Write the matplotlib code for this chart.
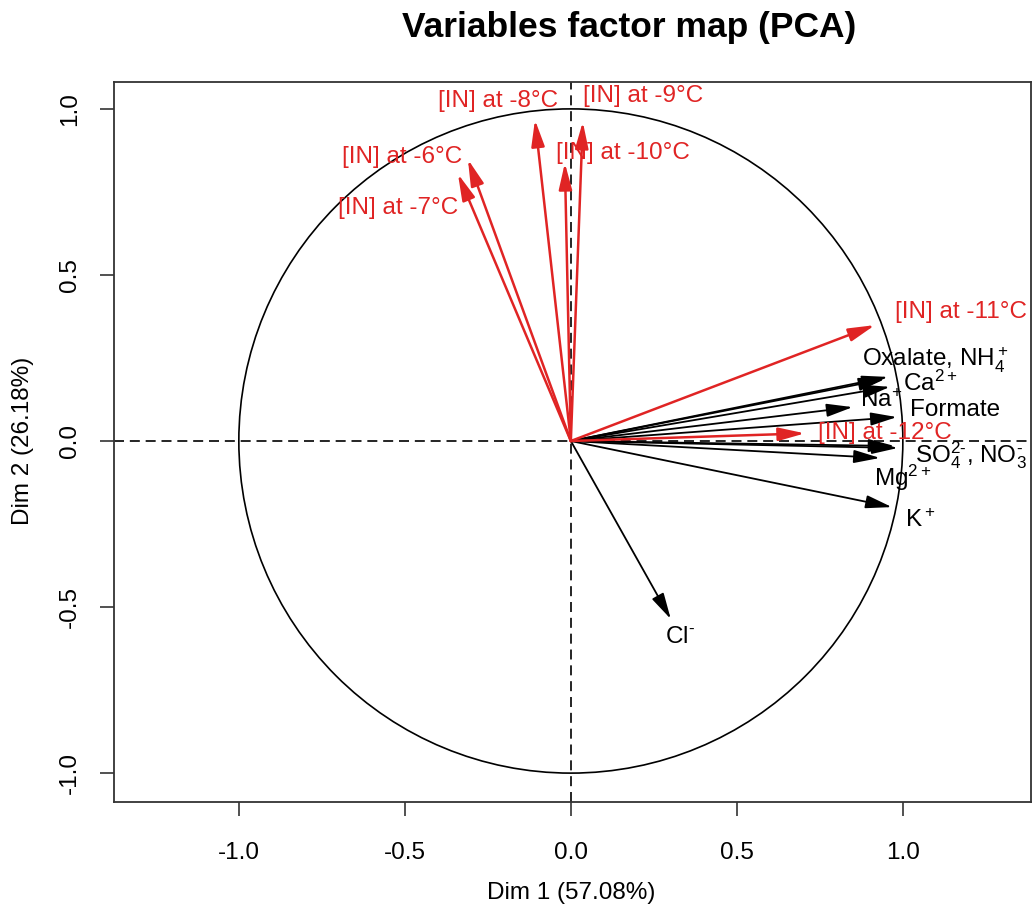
import matplotlib
matplotlib.use('Agg')
import matplotlib.pyplot as plt
from matplotlib.patches import Circle

plt.rcParams['font.family'] = ['Liberation Sans', 'DejaVu Sans']
plt.rcParams['mathtext.fontset'] = 'custom'
plt.rcParams['mathtext.rm'] = 'Liberation Sans'
plt.rcParams['mathtext.it'] = 'Liberation Sans'
plt.rcParams['mathtext.default'] = 'regular'

# ice nucleation variables (red)
in_names = ['[IN] at -6°C', '[IN] at -7°C', '[IN] at -8°C', '[IN] at -9°C',
            '[IN] at -10°C', '[IN] at -11°C', '[IN] at -12°C']
in_dim1 = [-0.310, -0.340, -0.108, 0.036, -0.018, 0.916, 0.705]
in_dim2 = [0.848, 0.804, 0.967, 0.961, 0.837, 0.349, 0.023]

# chemical variables (black)
chem_names = ['Oxalate', 'NH4', 'Ca', 'Na', 'Formate', 'SO4', 'NO3', 'Mg', 'K', 'Cl']
chem_dim1 = [0.955, 0.945, 0.961, 0.849, 0.982, 0.985, 0.975, 0.931, 0.967, 0.301]
chem_dim2 = [0.193, 0.186, 0.163, 0.102, 0.072, -0.021, -0.015, -0.051, -0.199, -0.536]

# labels shown for the chemical arrows (some arrows share one label)
chem_labels = {
    'Oxalate': 'Oxalate, NH$_4^+$',
    'Ca': 'Ca$^{2+}$',
    'Na': 'Na$^{+}$',
    'Formate': 'Formate',
    'SO4': 'SO$_4^{2\\text{-}}$, NO$_3^{\\text{-}}$',
    'Mg': 'Mg$^{2+}$',
    'K': 'K$^+$',
    'Cl': 'Cl$^{\\text{-}}$',
}

# label placement: offset in pixels from arrow tip, alignment
in_off = [(-6, 2, 'right'), (0, -34, 'right'), (-37, 19, 'center'), (60, 26, 'center'),
          (58, 10, 'center'), (86, 13, 'center'), (80, 0, 'center')]
chem_off = {'Oxalate': (47, 17), 'Ca': (40, 4), 'Na': (28, 7), 'Formate': (58, 7),
            'SO4': (73, -7), 'Mg': (23, -20), 'K': (28, -13), 'Cl': (9, -18)}

rouge = '#e02424'
fs = 17.5

fig = plt.figure(figsize=(10.34, 9.13), dpi=100)
ax = fig.add_axes([114 / 1034, 1 - 802 / 913, 917 / 1034, 720 / 913])
ax.set_xlim(-1.376, 1.386)
ax.set_ylim(-1.087, 1.081)

ax.add_patch(Circle((0, 0), 1, fill=False, color='black', lw=1.2))
ax.axhline(0, color='black', lw=1.2, ls=(0, (6, 3.5)))
ax.axvline(0, color='black', lw=1.2, ls=(0, (6, 3.5)))

style = '-|>,head_length=0.8,head_width=0.2'
for i, nom in enumerate(chem_names):
    ax.annotate('', xy=(chem_dim1[i], chem_dim2[i]), xytext=(0, 0),
                arrowprops=dict(arrowstyle=style, color='black', lw=1.3,
                                mutation_scale=20, shrinkA=0, shrinkB=0))
    if nom in chem_labels:
        dx, dy = chem_off[nom]
        ax.annotate(chem_labels[nom], xy=(chem_dim1[i], chem_dim2[i]),
                    xytext=(dx, dy), textcoords='offset pixels',
                    ha='center', va='center', fontsize=fs, color='black')

for i, nom in enumerate(in_names):
    ax.annotate('', xy=(in_dim1[i], in_dim2[i]), xytext=(0, 0),
                arrowprops=dict(arrowstyle=style, color=rouge, lw=1.8,
                                mutation_scale=20, shrinkA=0, shrinkB=0))
    dx, dy, ha = in_off[i]
    ax.annotate(nom, xy=(in_dim1[i], in_dim2[i]), xytext=(dx, dy),
                textcoords='offset pixels', ha=ha, va='center',
                fontsize=fs, color=rouge)

ticks = [-1.0, -0.5, 0.0, 0.5, 1.0]
ax.set_xticks(ticks)
ax.set_yticks(ticks)
ax.set_xticklabels([f'{t:.1f}' for t in ticks], fontsize=fs)
ax.set_yticklabels([f'{t:.1f}' for t in ticks], fontsize=fs, rotation=90, va='center')
ax.tick_params(axis='both', length=10, width=1.2, color='#333333')
ax.tick_params(axis='x', pad=19)
ax.tick_params(axis='y', pad=14)
for s in ax.spines.values():
    s.set_linewidth(1.3)
    s.set_color('#333333')

fig.text(571 / 1034, 1 - 893 / 913, 'Dim 1 (57.08%)', ha='center', va='center', fontsize=fs)
fig.text(23 / 1034, 1 - 441 / 913, 'Dim 2 (26.18%)', ha='center', va='center',
         rotation=90, fontsize=fs)
fig.text(629 / 1034, 1 - 27 / 913, 'Variables factor map (PCA)', ha='center', va='center',
         fontsize=25.5, fontweight='bold')

fig.savefig('out.png', dpi=100)
